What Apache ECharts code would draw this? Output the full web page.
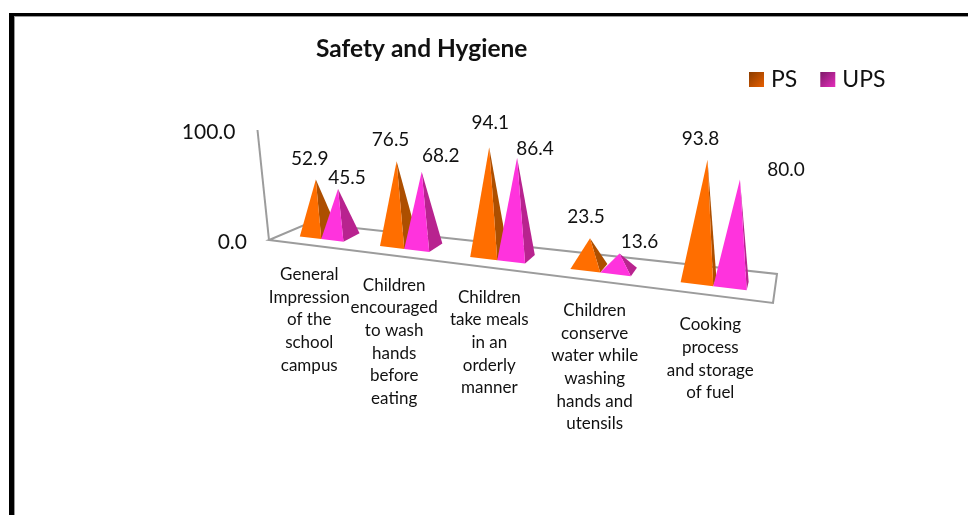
<!DOCTYPE html>
<html><head><meta charset="utf-8">
<style>html,body{margin:0;padding:0;background:#fff}#c{width:968px;height:515px}</style>
<script src="https://cdn.jsdelivr.net/npm/echarts@6/dist/echarts.min.js"></script>
</head><body><div id="c"></div>
<script>
const categories = [
  'General\nImpression\nof the\nschool\ncampus',
  'Children\nencouraged\nto wash\nhands\nbefore\neating',
  'Children\ntake meals\nin an\norderly\nmanner',
  'Children\nconserve\nwater while\nwashing\nhands and\nutensils',
  'Cooking\nprocess\nand storage\nof fuel'
];
const psValues = [52.9, 76.5, 94.1, 23.5, 93.8];
const upsValues = [45.5, 68.2, 86.4, 13.6, 80.0];
const valueTicks = [0, 100];
const psLabelShift = [[-6,-21],[-6,-21],[1,-24],[-4,-21],[-7,-21]];
const upsLabelShift = [[9,-11],[19,-16],[18,-9],[20,-12],[46,-10]];

const FONT = 'Lato, "Open Sans", sans-serif';
const GRID = {left:269, top:130, width:504, height:110};
// floor outline of the pseudo-3D box: front-left, front-right, back-right, back-left
const Q = [[269,240],[773,303],[777,274],[309,223]];
// perspective of the plane the pyramids stand on
function baseX(u){return 125*u*u+365*u+283.5;}
function baseY(x){return 239.2+0.1205*(x-323);}
function base(u,v){
  const x=baseX(u), y=baseY(x);
  return [x+v*(16-(x-346)*0.035), y-v*8.5];
}
function lift(p,factor,frac){
  const k=(102.5+(p[0]-330)*0.07)*factor*frac;
  return [p[0]+(p[0]-490)*0.00035*k, p[1]-k];
}
const BAR=0.056;
function pyramid(series,colors,shifts){
  return function(params,api){
    const i=api.value(0), val=api.value(1);
    const c=api.coord([i,val]), b=api.coord([i,0]);
    const uc=(c[0]-GRID.left)/GRID.width, frac=(b[1]-c[1])/GRID.height;
    const u0=series===0?uc-BAR:uc, u1=series===0?uc:uc+BAR;
    const FL=base(u0,0),FR=base(u1,0),BR=base(u1,1);
    const center=base((u0+u1)/2,0.5), apex=lift(center,1,frac);
    const s=shifts[i];
    return {type:'group',children:[
      {type:'polygon',shape:{points:[FR,BR,apex]},style:{fill:colors[1]}},
      {type:'polygon',shape:{points:[FL,FR,apex]},style:{fill:colors[0]}},
      {type:'text',style:{x:apex[0]+s[0],y:apex[1]+s[1],text:val.toFixed(1),fill:'#111',
        font:'19px '+FONT,align:'center',verticalAlign:'middle'}}
    ]};
  };
}
function frame(params,api){
  const q=Q;
  const top=lift(q[0],1.12,1);
  const kids=[
    {type:'polygon',shape:{points:q},style:{fill:'none',stroke:'#9c9c9c',lineWidth:2}},
    {type:'line',shape:{x1:q[0][0],y1:q[0][1],x2:top[0]-3,y2:top[1]},style:{stroke:'#9c9c9c',lineWidth:2}}
  ];
  valueTicks.forEach(t=>{
    const py=api.coord([0,t]);
    const f=(GRID.top+GRID.height-py[1])/GRID.height;
    const p=lift(q[0],1.12,f);
    kids.push({type:'text',style:{x:p[0]-3*f-22,y:p[1]+2.5,text:t.toFixed(1),fill:'#111',
      font:'21px '+FONT,align:'right',verticalAlign:'middle'}});
  });
  return {type:'group',children:kids};
}
function catLabel(params,api){
  const i=api.value(0), c=api.coord([i,0]);
  const x=baseX((c[0]-GRID.left)/GRID.width);
  return {type:'text',style:{x:x-(12-(x-321)*0.023),y:baseY(x)+35.5+(x-323)*0.008-11.35,text:categories[i],fill:'#111',
    font:'17px '+FONT,lineHeight:22.7,align:'center',verticalAlign:'top'}};
}
const lin=(a,b)=>({type:'linear',x:0,y:0,x2:1,y2:1,colorStops:[{offset:0,color:a},{offset:1,color:b}]});
const chart=echarts.init(document.getElementById('c'),null,{renderer:'canvas'});
chart.setOption({
  animation:false,
  backgroundColor:'#fff',
  title:{text:'Safety and Hygiene',left:311,top:32,textStyle:{fontFamily:FONT,fontWeight:'bold',fontSize:24.5,color:'#111'}},
  legend:{data:['PS','UPS'],left:744,top:63,icon:'rect',itemWidth:15,itemHeight:15,itemGap:23,
    textStyle:{fontFamily:FONT,fontSize:23,color:'#111',padding:[0,0,0,2]}},
  grid:GRID,
  xAxis:{type:'category',data:categories,show:false},
  yAxis:{type:'value',min:valueTicks[0],max:valueTicks[1],interval:100,show:false},
  graphic:[
    {type:'rect',shape:{x:9,y:13,width:5,height:510},style:{fill:'#000'}},
    {type:'rect',shape:{x:9,y:13,width:970,height:3},style:{fill:'#000'}},
    {type:'rect',shape:{x:14,y:16,width:1,height:510},style:{fill:'#999'}},
    {type:'rect',shape:{x:14,y:16,width:960,height:1},style:{fill:'#999'}}
  ],
  series:[
    {type:'custom',name:'frame',silent:true,clip:false,z:1,data:[[0,0]],renderItem:frame,encode:{x:0,y:1}},
    {type:'custom',name:'PS',silent:true,clip:false,z:2,data:psValues.map((v,i)=>[i,v]),encode:{x:0,y:1},
      itemStyle:{color:lin('#8a3d00','#e85f00')},renderItem:pyramid(0,['#ff6e00','#ad4f00'],psLabelShift)},
    {type:'custom',name:'UPS',silent:true,clip:false,z:3,data:upsValues.map((v,i)=>[i,v]),encode:{x:0,y:1},
      itemStyle:{color:lin('#7c1a68','#e62dbc')},renderItem:pyramid(1,['#ff33dd','#b8238f'],upsLabelShift)},
    {type:'custom',name:'labels',silent:true,clip:false,z:4,data:categories.map((c,i)=>[i,0]),encode:{x:0,y:1},renderItem:catLabel}
  ]
});
</script></body></html>
